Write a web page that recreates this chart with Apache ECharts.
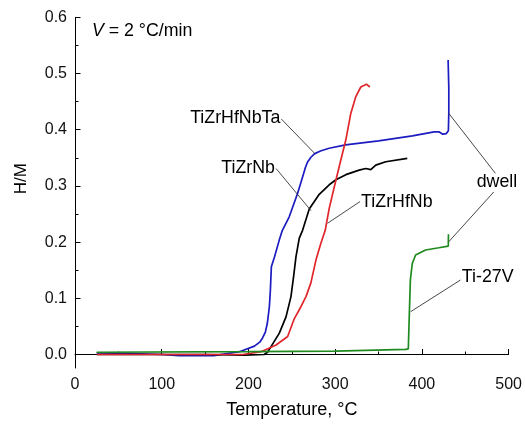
<!DOCTYPE html>
<html>
<head>
<meta charset="utf-8">
<script src="https://cdn.jsdelivr.net/npm/echarts@6/dist/echarts.min.js"></script>
<style>html,body{margin:0;padding:0;background:#fff}#c{width:525px;height:424px}</style>
</head>
<body>
<div id="c"></div>
<script>
// ---- data ----
const xTicks = [0, 100, 200, 300, 400, 500];
const yTicks = [0.0, 0.1, 0.2, 0.3, 0.4, 0.5, 0.6];
const yMinorTicks = [0.05, 0.15, 0.25, 0.35, 0.45, 0.55];

const seriesNames = ['TiZrHfNbTa', 'TiZrNb', 'TiZrHfNb', 'Ti-27V'];

const tBlue = [25, 60, 100, 120, 160, 189.7, 206.9, 213, 216.1, 219.5, 221.8, 224.1, 225.3, 226.4, 229.9, 235.6, 239.1, 247, 256.7, 262.4, 265.5, 268, 272, 276, 283, 293, 312, 350, 389, 414, 420, 424, 428, 430.5, 431, 431, 430.2, 430.2];
const hBlue = [0.003, 0.002, 0.0, -0.002, -0.002, 0.005, 0.015, 0.022, 0.029, 0.040, 0.056, 0.085, 0.115, 0.156, 0.173, 0.204, 0.221, 0.245, 0.287, 0.316, 0.332, 0.342, 0.351, 0.357, 0.362, 0.367, 0.373, 0.380, 0.389, 0.396, 0.396, 0.392, 0.393, 0.398, 0.43, 0.474, 0.475, 0.524];

const tBlack = [25, 150, 195, 218, 222, 226, 235.6, 243.3, 249, 252, 254.8, 258.6, 262.4, 270.1, 281.6, 293.1, 300.8, 312.3, 327.6, 335.3, 341, 346.8, 358.3, 383.1];
const hBlack = [0.0, 0.0, -0.001, 0.0, 0.004, 0.014, 0.038, 0.067, 0.103, 0.138, 0.174, 0.207, 0.221, 0.259, 0.285, 0.302, 0.311, 0.320, 0.328, 0.331, 0.329, 0.337, 0.343, 0.349];

const tRed = [25, 100, 193.5, 214.6, 231.8, 245.2, 252.9, 260.5, 266.3, 271.9, 277.8, 283.5, 288.5, 293.1, 300.8, 306.5, 312.3, 318, 323.8, 329.5, 336, 340];
const hRed = [0.0, 0.0, 0.0, 0.005, 0.017, 0.032, 0.064, 0.085, 0.103, 0.127, 0.168, 0.198, 0.221, 0.260, 0.310, 0.346, 0.382, 0.429, 0.459, 0.476, 0.481, 0.476];

const tGreen = [25, 200, 300, 381, 384.3, 385.5, 386.7, 388.9, 392.7, 404.2, 419.5, 430.4, 430.6];
const hGreen = [0.004, 0.005, 0.006, 0.009, 0.010, 0.073, 0.133, 0.162, 0.177, 0.186, 0.190, 0.193, 0.214];

// ---- annotation layout (positions in data units) ----
const annotations = [
  { text: 'TiZrHfNbTa', at: [236.8, 0.4208], align: 'right', lines: [[[237.9, 0.419], [275.9, 0.3585]]] },
  { text: 'TiZrNb', at: [230.5, 0.332], align: 'right', lines: [[[231.8, 0.331], [272.1, 0.256]]] },
  { text: 'TiZrHfNb', at: [329.9, 0.2705], align: 'left', lines: [[[328.7, 0.2722], [291.2, 0.2335]]] },
  { text: 'dwell', at: [463.2, 0.3069], align: 'left', lines: [[[484.7, 0.3224], [431, 0.429]], [[482.8, 0.2892], [431, 0.2007]]] },
  { text: 'Ti-27V', at: [446, 0.1379], align: 'left', lines: [[[444.5, 0.1326], [387, 0.0762]]] }
];

const FONT = '"Liberation Sans", Arial, sans-serif';
const ANN_SIZE = 17.8;
const zip = (a, b) => a.map((v, i) => [v, b[i]]);

const chart = echarts.init(document.getElementById('c'), null, { renderer: 'canvas' });

function lineSeries(name, t, h, color) {
  return {
    name, type: 'line', data: zip(t, h), showSymbol: false, symbol: 'none',
    lineStyle: { color, width: 1.7 }, itemStyle: { color }, animation: false, z: 3
  };
}

const yAxisBase = {
  type: 'value', min: -0.024, max: 0.6,
  splitLine: { show: false }
};

chart.setOption({
  animation: false,
  grid: { left: 75, right: 15, top: 17.3, bottom: 56 },
  xAxis: {
    type: 'value', min: 0, max: 500, interval: 100,
    name: 'Temperature, °C', nameLocation: 'middle', nameGap: 33,
    nameTextStyle: { fontFamily: FONT, fontSize: 18, color: '#000' },
    axisLine: { show: true, lineStyle: { color: '#000', width: 1 } },
    axisTick: { show: true, inside: true, length: 5.5, lineStyle: { color: '#000' }, customValues: xTicks },
    minorTick: { show: true, splitNumber: 2, length: 3, lineStyle: { color: '#000' } },
    axisLabel: { fontFamily: FONT, fontSize: 16, color: '#111', margin: 9, customValues: xTicks },
    splitLine: { show: false }
  },
  yAxis: [
    Object.assign({}, yAxisBase, {
      name: 'H/M', nameLocation: 'middle', nameGap: 45, nameRotate: 90,
      nameTextStyle: { fontFamily: FONT, fontSize: 17, color: '#000', padding: [0, 0, 0, 28] },
      axisLine: { show: true, lineStyle: { color: '#000', width: 1 } },
      axisTick: { show: true, inside: true, length: 5.5, lineStyle: { color: '#000' }, customValues: yTicks },
      axisLabel: { fontFamily: FONT, fontSize: 16, color: '#111', margin: 8, customValues: yTicks, formatter: v => v.toFixed(1) }
    }),
    Object.assign({}, yAxisBase, {
      position: 'left',
      axisLine: { show: false },
      axisTick: { show: true, inside: true, length: 3.5, lineStyle: { color: '#000' }, customValues: yMinorTicks },
      axisLabel: { show: false }
    })
  ],
  series: [
    lineSeries(seriesNames[0], tBlue, hBlue, '#1c1cc0'),
    lineSeries(seriesNames[1], tBlack, hBlack, '#000000'),
    lineSeries(seriesNames[2], tRed, hRed, '#e0262a'),
    lineSeries(seriesNames[3], tGreen, hGreen, '#1f8a1f')
  ]
});

function px(p) { return chart.convertToPixel({ gridIndex: 0 }, p); }

const elements = [];
annotations.forEach(a => {
  const p = px(a.at);
  elements.push({
    type: 'text', x: p[0], y: p[1], z: 10,
    style: { text: a.text, fontFamily: FONT, fontSize: ANN_SIZE, fill: '#000', align: a.align, verticalAlign: 'middle' }
  });
  a.lines.forEach(l => {
    const p1 = px(l[0]), p2 = px(l[1]);
    elements.push({
      type: 'line', z: 9,
      shape: { x1: p1[0], y1: p1[1], x2: p2[0], y2: p2[1] },
      style: { stroke: '#333', lineWidth: 0.9 }
    });
  });
});
const vp = px([19.5, 0.5756]);
elements.push({
  type: 'text', x: vp[0], y: vp[1], z: 10,
  style: {
    text: '{i|V} = 2 °C/min',
    fontFamily: FONT, fontSize: ANN_SIZE, fill: '#000', verticalAlign: 'middle', align: 'left',
    rich: { i: { fontStyle: 'italic', fontFamily: FONT, fontSize: ANN_SIZE, fill: '#000' } }
  }
});
chart.setOption({ graphic: { elements } });
</script>
</body>
</html>
